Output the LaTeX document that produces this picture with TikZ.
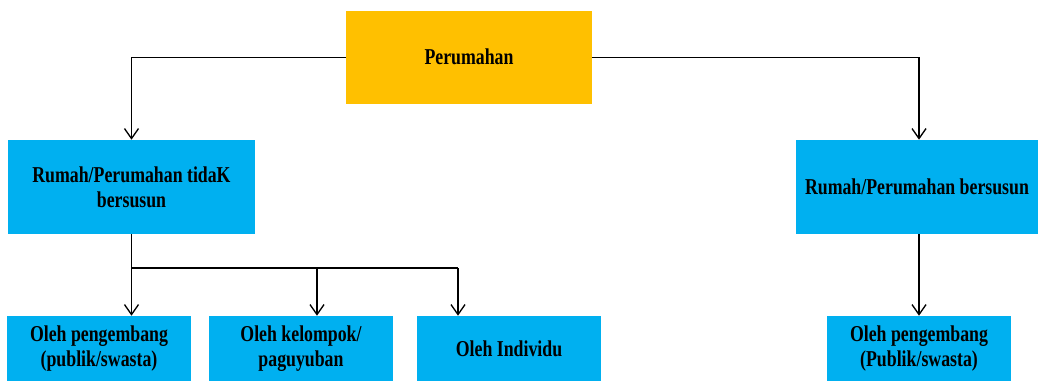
\documentclass[tikz,border=0pt]{standalone}
\usepackage{fontspec}
\setmainfont{Liberation Serif}[FakeStretch=0.785]
\usetikzlibrary{arrows.meta}
\definecolor{boxorange}{HTML}{FFC000}
\definecolor{boxblue}{HTML}{00B0F0}
\tikzset{
  box/.style={draw=none, inner sep=0pt, align=center, text=black,
    font=\fontsize{17}{19}\selectfont\bfseries},
  orangebox/.style={box, fill=boxorange},
  bluebox/.style={box, fill=boxblue},
  link/.style={line width=1pt, draw=black},
  conn/.style={link, -{Straight Barb[length=7.5pt,width=10.5pt,line width=1pt]}}
}
\begin{document}
\begin{tikzpicture}[x=0.75pt,y=-0.75pt]
\useasboundingbox (0,0) rectangle (1038,381);
\node[orangebox, minimum width=184.5pt, minimum height=70.1pt] (top) at (469,57.25) {Perumahan};
\node[bluebox, minimum width=185.25pt, minimum height=70.5pt] (L) at (131.5,187) {Rumah/Perumahan tidaK\\bersusun};
\node[bluebox, minimum width=181.5pt, minimum height=70.5pt] (R) at (917,187) {Rumah/Perumahan bersusun};
\node[bluebox, minimum width=138pt, minimum height=48.75pt] (B1) at (99,348.5) {Oleh pengembang\\(publik/swasta)};
\node[bluebox, minimum width=138pt, minimum height=48.75pt] (B2) at (301,348.5) {Oleh kelompok/\\paguyuban};
\node[bluebox, minimum width=138pt, minimum height=48.75pt] (B3) at (509,348.5) {Oleh Individu};
\node[bluebox, minimum width=138pt, minimum height=48.75pt] (B4) at (919,348.5) {Oleh pengembang\\(Publik/swasta)};
\coordinate (jy) at (0,268);
\coordinate (j) at (L.south |- jy);
\coordinate (a2) at (317,268);
\coordinate (a3) at (458,268);
\draw[conn] (top.west) -| (L.north);
\draw[conn] (top.east) -| (B4.north |- R.north);
\draw[link] (L.south) -- (j);
\draw[link] (j) -- (a3);
\draw[conn] (j) -- (j |- B1.north);
\draw[conn] (a2) -- (a2 |- B2.north);
\draw[conn] (a3) -- (a3 |- B3.north);
\draw[conn] (B4.north |- R.south) -- (B4.north);
\end{tikzpicture}
\end{document}
